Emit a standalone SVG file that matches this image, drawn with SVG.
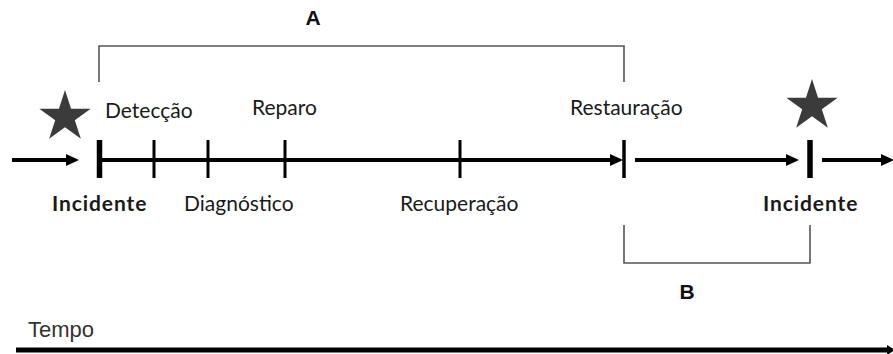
<svg xmlns="http://www.w3.org/2000/svg" width="893" height="354" viewBox="0 0 893 354">
  <style>
    .lbl { font-family: Lato, "Open Sans", sans-serif; font-size: 21px; fill: #1a1a1a; }
    .bold { font-weight: bold; letter-spacing: 0.9px; }
    .key { font-family: "Liberation Sans", Arial, sans-serif; font-weight: bold; font-size: 21px; fill: #111; text-anchor: middle; }
    .axis { font-family: "Liberation Sans", Arial, sans-serif; font-size: 22px; fill: #333; }
    .line { stroke: #000; stroke-width: 4; fill: none; }
    .tick { stroke: #000; stroke-width: 3; }
    .tick-strong { stroke: #000; stroke-width: 5.5; }
    .bracket { stroke: #555; stroke-width: 1.6; fill: none; }
    .head { fill: #000; }
    .star { fill: #3b3b3b; }
  </style>
  <defs>
    <path id="star" d="M0,-27 L6.05,-8.33 L25.68,-8.34 L9.8,3.18 L15.87,21.84 L0,10.3 L-15.87,21.84 L-9.8,3.18 L-25.68,-8.34 L-6.05,-8.33 Z"/>
  </defs>

  <rect width="893" height="354" fill="#fff"/>

  <!-- timeline segments and arrows -->
  <g id="connectors">
    <line class="line" x1="12" y1="160" x2="68" y2="160"/>
    <polygon class="head" points="66,154 79,160 66,166"/>
    <line class="line" x1="100" y1="160" x2="612" y2="160"/>
    <polygon class="head" points="610,154 623,160 610,166"/>
    <line class="line" x1="635" y1="160" x2="788" y2="160"/>
    <polygon class="head" points="786,154 799,160 786,166"/>
    <line class="line" x1="822" y1="160" x2="883" y2="160"/>
    <polygon class="head" points="881,154 894,160 881,166"/>

    <!-- interval A: incident to restoration -->
    <polyline class="bracket" points="99,82 99,46 624,46 624,82"/>
    <!-- interval B: restoration to next incident -->
    <polyline class="bracket" points="624,225 624,263 810,263 810,225"/>

    <!-- time axis -->
    <line stroke="#000" stroke-width="5" x1="16" y1="350" x2="889" y2="350"/>
    <polygon class="head" points="887,345 895,350 887,355"/>
  </g>

  <g id="incident-1">
    <use href="#star" class="star" x="65" y="117"/>
    <line class="tick-strong" x1="99.5" y1="140" x2="99.5" y2="178"/>
    <text class="lbl bold" x="52" y="211">Incidente</text>
  </g>

  <g id="deteccao">
    <line class="tick" x1="154" y1="140" x2="154" y2="178"/>
    <text class="lbl" x="105" y="118">Detecção</text>
  </g>

  <g id="diagnostico">
    <line class="tick" x1="208" y1="140" x2="208" y2="178"/>
    <text class="lbl" x="184" y="211">Diagnóstico</text>
  </g>

  <g id="reparo">
    <line class="tick" x1="285" y1="140" x2="285" y2="178"/>
    <text class="lbl" x="252" y="115">Reparo</text>
  </g>

  <g id="recuperacao">
    <line class="tick" x1="460" y1="140" x2="460" y2="178"/>
    <text class="lbl" x="400" y="211">Recuperação</text>
  </g>

  <g id="restauracao">
    <line class="tick" x1="624" y1="140" x2="624" y2="178" style="stroke-width:3.5"/>
    <text class="lbl" x="570" y="115">Restauração</text>
  </g>

  <g id="incident-2">
    <use href="#star" class="star" x="812" y="106"/>
    <line class="tick-strong" x1="810" y1="140" x2="810" y2="178"/>
    <text class="lbl bold" x="763" y="211">Incidente</text>
  </g>

  <g id="label-a">
    <text class="key" x="313" y="25">A</text>
  </g>
  <g id="label-b">
    <text class="key" x="687" y="299">B</text>
  </g>
  <g id="axis-label">
    <text class="axis" x="28" y="337">Tempo</text>
  </g>
</svg>
